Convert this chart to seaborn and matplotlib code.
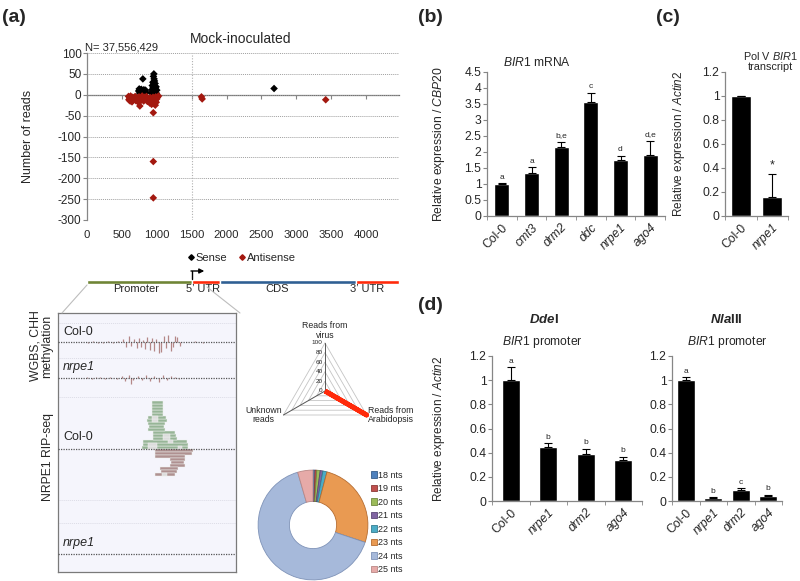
import numpy as np
import pandas as pd
import matplotlib
matplotlib.use('Agg')
import matplotlib.pyplot as plt
import seaborn as sns
from matplotlib.lines import Line2D

W, H = 800, 581

# ---------------- data ----------------
# (a) small RNA reads along BIR1 (mock-inoculated)
sense_pos = [740, 748, 755, 762, 770, 778, 785, 792, 800, 808, 815, 823, 830, 838, 845,
             925, 930, 935, 940, 944, 948, 952, 955, 958, 961, 964, 967, 970, 973, 976,
             980, 985, 990, 995, 1000, 2680]
sense_reads = [9, 14, 4, 11, 7, 13, 2, 10, 38, 5, 12, 8, 3, 11, 6,
               4, 12, 22, 8, 30, 17, 44, 26, 50, 38, 14, 33, 21, 9, 27,
               16, 6, 19, 3, 11, 15]
anti_pos = [595, 600, 610, 618, 625, 635, 645, 655, 668, 680, 690, 700, 712, 725, 735,
            745, 757, 768, 780, 790, 800, 812, 825, 840, 852, 865, 878, 890, 900, 910,
            918, 926, 934, 940, 946, 950, 950, 950, 955, 960, 966, 972, 978, 985, 992,
            1000, 1010, 1025, 1640, 1650, 3420]
anti_reads = [-4, -12, -8, -15, -3, -10, -17, -6, -12, -9, -4, -14, -7, -11, -18,
              -5, -27, -9, -13, -3, -8, -15, -6, -11, -4, -16, -9, -13, -20, -7,
              -14, -23, -10, -17, -6, -43, -160, -247, -12, -21, -8, -15, -25, -5, -18,
              -10, -6, -3, -5, -10, -12]

gene_parts = ['Promoter', '5\u2019 UTR', 'CDS', '3\u2019 UTR']
gene_start = [0, 1500, 1900, 3860]
gene_end = [1500, 1900, 3860, 4470]
gene_label_pos = [700, 1660, 2730, 4010]
gene_colors = ['#6f8535', '#ff2a0a', '#2f5f93', '#ff2a0a']

# genome browser tracks (promoter region, bp)
col_meth_pos = [290, 330, 380, 430, 480, 530, 575, 625, 650, 675, 700, 725, 750, 770, 790,
                810, 830, 850, 875, 900, 920, 940, 960, 985, 1010, 1030, 1050, 1075, 1100,
                1120, 1140, 1165, 1310, 1385]
col_meth_val = [-1, 1, -1, -1, 1, -1, 1, 3, -5, 6, -4, 3, -6, 4, -5,
                2, -7, 5, -8, 4, -9, 3, -11, -10, 6, -6, 7, -9, -5,
                6, 5, -4, 1, -1]
nrpe_meth_pos = [280, 320, 360, 400, 450, 500, 560, 610, 640, 680, 700, 720, 760, 800,
                 840, 880, 920, 960, 1000, 1040, 1080, 1120, 1160]
nrpe_meth_val = [1, -1, 1, 1, -1, 1, -1, 2, -3, 3, -6, -2, 2, -2,
                 3, -3, 2, -4, 3, -2, 2, 1, -1]

rip_up_row = [1, 2, 3, 4, 5, 6, 7, 8, 9, 10, 11, 12, 13, 14, 15, 16]
rip_up_start = [805, 810, 812, 905, 910, 905, 860, 865, 858, 850, 855, 895, 898, 895, 900, 895]
rip_up_end = [1245, 1240, 1230, 1135, 1130, 1120, 1020, 1015, 1025, 1040, 1035, 1005, 1000, 1005, 1005, 1000]
rip_grey_row = [1, 2, 1, 3, 4, 5, 10, 11]
rip_grey_start = [860, 860, 1150, 1050, 1005, 1005, 900, 900]
rip_grey_end = [945, 945, 1185, 1100, 1070, 1070, 955, 955]
rip_down_row = [1, 2, 3, 4, 5, 6, 7, 8, 9]
rip_down_start = [925, 930, 925, 1070, 1075, 1070, 975, 980, 925]
rip_down_end = [1290, 1280, 1210, 1210, 1205, 1210, 1150, 1140, 1115]
rip_down_grey_row = [9]
rip_down_grey_start = [990]
rip_down_grey_end = [1040]

# radar
radar_names = ['Reads from\nvirus', 'Reads from\nArabidopsis', 'Unknown\nreads']
radar_vals = [0, 100, 0]

# donut of read sizes
nts_labels = ['18 nts', '19 nts', '20 nts', '21 nts', '22 nts', '23 nts', '24 nts', '25 nts']
nts_pct = [0.6, 0.5, 1.0, 0.8, 1.2, 26.0, 65.4, 4.5]
nts_colors = ['#4f81bd', '#c0504d', '#9bbb59', '#8064a2', '#4bacc6', '#e99a52', '#a6b9da', '#e6aaa8']
nts_edges = ['#385d8a', '#8c3836', '#71893f', '#5c4776', '#357d91', '#b66d31', '#7f93b8', '#b98785']

# (b)
b_geno = ['Col-0', 'cmt3', 'drm2', 'ddc', 'nrpe1', 'ago4']
b_mean = [1.0, 1.33, 2.15, 3.57, 1.75, 1.9]
b_err = [0.02, 0.19, 0.17, 0.28, 0.14, 0.45]
b_letters = ['a', 'a', 'b,e', 'c', 'd', 'd,e']

# (c)
c_geno = ['Col-0', 'nrpe1']
c_mean = [1.0, 0.155]
c_err = [0.0, 0.195]

# (d)
d_geno = ['Col-0', 'nrpe1', 'drm2', 'ago4']
dde_mean = [1.0, 0.448, 0.393, 0.337]
dde_err = [0.106, 0.028, 0.036, 0.028]
dde_letters = ['a', 'b', 'b', 'b']
nla_mean = [1.0, 0.025, 0.094, 0.045]
nla_err = [0.023, 0.005, 0.011, 0.005]
nla_letters = ['a', 'b', 'c', 'b']

# ---------------- style ----------------
sns.set_style('white')
plt.rcParams['font.family'] = ['Liberation Sans', 'DejaVu Sans']
plt.rcParams['axes.unicode_minus'] = False
plt.rcParams['mathtext.fontset'] = 'custom'
plt.rcParams['mathtext.rm'] = 'Liberation Sans'
plt.rcParams['mathtext.it'] = 'Liberation Sans:italic'
plt.rcParams['mathtext.bf'] = 'Liberation Sans:bold'
plt.rcParams['mathtext.bfit'] = 'Liberation Sans:italic:bold'

AX_GREY = '#868686'
TICK_FS = 8.7


def box(l, t, r, b):
    return [l / W, 1 - b / H, (r - l) / W, (b - t) / H]


def ftext(x, y, s, **kw):
    kw.setdefault('va', 'center')
    return fig.text(x / W, 1 - y / H, s, **kw)


fig = plt.figure(figsize=(W / 100, H / 100), dpi=100)

# ---------------- (a) scatter ----------------
ax = fig.add_axes(box(87, 53, 399, 220))
reads = pd.DataFrame({
    'pos': sense_pos + anti_pos,
    'reads': sense_reads + anti_reads,
    'strand': ['Sense'] * len(sense_pos) + ['Antisense'] * len(anti_pos),
})
strand_colors = {'Sense': '#000000', 'Antisense': '#a3180f'}
sns.scatterplot(data=reads, x='pos', y='reads', hue='strand', palette=strand_colors,
                marker='D', s=15, linewidth=0, legend=False, ax=ax, zorder=3)
ax.set_xlim(0, 4470)
ax.set_ylim(-300, 100)
ax.set_yticks(np.arange(-300, 101, 50))
ax.set_xticks(np.arange(0, 4001, 500))
ax.grid(axis='y', ls=(0, (1, 1)), color='#a0a0a0', lw=0.7)
ax.set_axisbelow(True)
ax.axvline(1500, color='#b0b0b0', ls=(0, (1, 1.5)), lw=0.8, zorder=1)
for s in ['top', 'right', 'bottom']:
    ax.spines[s].set_visible(False)
ax.spines['left'].set_color(AX_GREY)
ax.spines['left'].set_linewidth(0.9)
ax.tick_params(axis='y', length=3, color=AX_GREY, labelsize=8.5, pad=1, left=True)
ax.tick_params(axis='x', length=0, labelsize=8.2, pad=7)
ax.set_xlabel('')
ax.set_ylabel('Number of reads', fontsize=9)
ax.yaxis.set_label_coords(-0.17, 0.5)
sec = ax.secondary_xaxis(0.75)
sec.set_xticks(np.arange(0, 4001, 500))
sec.tick_params(direction='in', length=3, color=AX_GREY, labeltop=False, labelbottom=False)
for s in sec.spines.values():
    s.set_color('#707070')
    s.set_linewidth(0.9)

ftext(241, 39, 'Mock-inoculated', ha='center', fontsize=10)
ftext(85, 48, 'N= 37,556,429', ha='left', fontsize=8)

handles = [Line2D([], [], marker='D', ls='', ms=2.8, color=strand_colors[k]) for k in ['Sense', 'Antisense']]
fig.legend(handles, ['Sense', 'Antisense'], loc='center', bbox_to_anchor=(241 / W, 1 - 258 / H),
           ncol=2, frameon=False, fontsize=8, handletextpad=0.05, columnspacing=0.9, handlelength=0.8)

# gene model
axg = fig.add_axes(box(87, 266, 399, 298))
axg.set_xlim(0, 4470)
axg.set_ylim(32, 0)
axg.axis('off')
axg.barh([16] * 4, np.array(gene_end) - np.array(gene_start), left=gene_start, height=4.5,
         color=gene_colors)
for name, xp in zip(gene_parts, gene_label_pos):
    axg.text(xp, 23.5, name, ha='center', va='center', fontsize=8)
axg.plot([1500, 1500], [13.5, 5], color='black', lw=1)
axg.annotate('', xy=(1680, 5), xytext=(1490, 5),
             arrowprops=dict(arrowstyle='-|>', color='black', lw=1, mutation_scale=7,
                             shrinkA=0, shrinkB=0))

fig.add_artist(Line2D([87 / W, 62 / W], [1 - 285 / H, 1 - 313 / H], color='#bdbdbd', lw=0.8))
fig.add_artist(Line2D([207 / W, 240 / W], [1 - 287 / H, 1 - 313 / H], color='#bdbdbd', lw=0.8))

# genome browser
axb = fig.add_axes(box(58, 313, 236, 572))
axb.set_facecolor('#f5f5fc')
axb.set_xlim(0, 1700)
axb.set_ylim(259, 0)
axb.set_xticks([])
axb.set_yticks([])
for s in axb.spines.values():
    s.set_color('#7a7a7a')
    s.set_linewidth(0.9)
for gy in [10, 45, 84, 187, 210]:
    axb.axhline(gy, color='#dcdce6', lw=0.7, ls=(0, (1, 1)))
base_col_m, base_nrpe_m, base_col_r, base_nrpe_r = 29, 65, 136, 241
for by in [base_col_m, base_nrpe_m, base_col_r, base_nrpe_r]:
    axb.axhline(by, color='#555555', lw=0.9, ls=(0, (1, 1)), zorder=4)
axb.vlines(col_meth_pos, base_col_m, base_col_m - np.array(col_meth_val), color='#b48787', lw=0.9)
axb.vlines(nrpe_meth_pos, base_nrpe_m, base_nrpe_m - np.array(nrpe_meth_val), color='#b48787', lw=0.9)

row_h = 3.0
read_kw = dict(height=row_h, linewidth=0.35, edgecolor='#eef1ee')
up_y = base_col_r - (np.array(rip_up_row) - 0.5) * row_h
axb.barh(up_y, np.array(rip_up_end) - np.array(rip_up_start), left=rip_up_start,
         color='#97b597', zorder=2, **read_kw)
gy_ = base_col_r - (np.array(rip_grey_row) - 0.5) * row_h
axb.barh(gy_, np.array(rip_grey_end) - np.array(rip_grey_start), left=rip_grey_start,
         color='#dcdcdc', zorder=3, **read_kw)
dn_y = base_col_r + (np.array(rip_down_row) - 0.5) * row_h
axb.barh(dn_y, np.array(rip_down_end) - np.array(rip_down_start), left=rip_down_start,
         color='#af9191', zorder=2, **read_kw)
dg_y = base_col_r + (np.array(rip_down_grey_row) - 0.5) * row_h
axb.barh(dg_y, np.array(rip_down_grey_end) - np.array(rip_down_grey_start), left=rip_down_grey_start,
         color='#dcdcdc', zorder=3, **read_kw)

axb.text(48, 19, 'Col-0', fontsize=9, va='center')
axb.text(48, 54, 'nrpe1', fontsize=9, va='center', style='italic')
axb.text(48, 124, 'Col-0', fontsize=9, va='center')
axb.text(48, 230, 'nrpe1', fontsize=9, va='center', style='italic')

ftext(41, 346, 'WGBS, CHH\nmethylation', rotation=90, ha='center', fontsize=8.8, linespacing=1.0)
ftext(48, 457, 'NRPE1 RIP-seq', rotation=90, ha='center', fontsize=8.8)

# radar
axr = fig.add_axes(box(265, 331, 385, 451))
axr.set_xlim(-125, 125)
axr.set_ylim(-125, 125)
axr.axis('off')
ang = np.deg2rad([90, -30, 210])
ang_c = np.append(ang, ang[0])
for lev in range(20, 101, 20):
    axr.plot(lev * np.cos(ang_c), lev * np.sin(ang_c), color='#c4c4c4', lw=0.6)
for a in ang:
    axr.plot([0, 100 * np.cos(a)], [0, 100 * np.sin(a)], color='#555555', lw=0.7)
for lev in range(0, 101, 20):
    axr.text(-5, lev, str(lev), ha='right', va='center', fontsize=4.6)
rv = np.append(radar_vals, radar_vals[0])
axr.plot(rv * np.cos(ang_c), rv * np.sin(ang_c), color='#ff2a0a', lw=3.5, solid_capstyle='butt')
axr.text(0, 106, radar_names[0], ha='center', va='bottom', fontsize=6.3, linespacing=1.1)
axr.text(90, -50, radar_names[1], ha='left', va='center', fontsize=6.3, linespacing=1.1)
axr.text(-90, -50, radar_names[2], ha='right', va='center', fontsize=6.3, linespacing=1.1,
         multialignment='center')

# donut
axd = fig.add_axes(box(257, 469, 369, 581))
wedges, _ = axd.pie(nts_pct, colors=nts_colors, startangle=90, counterclock=False, radius=1,
                    wedgeprops=dict(width=0.57, linewidth=0.6))
for w, ec in zip(wedges, nts_edges):
    w.set_edgecolor(ec)
axd.set_xlim(-1.02, 1.02)
axd.set_ylim(-1.02, 1.02)
fig.legend(wedges, nts_labels, loc='upper left', bbox_to_anchor=(366 / W, 1 - 466 / H),
           frameon=False, fontsize=6.5, handlelength=0.7, handleheight=0.7,
           labelspacing=0.5, handletextpad=0.15, borderpad=0)


# ---------------- bar panels ----------------
def bar_panel(rect, geno, mean, err, ymax, step, width):
    a = fig.add_axes(rect)
    df = pd.DataFrame({'genotype': geno, 'expr': mean})
    sns.barplot(data=df, x='genotype', y='expr', color='black', saturation=1, width=width,
                errorbar=None, ax=a)
    n = len(geno)
    a.errorbar(np.arange(n), mean, yerr=[np.zeros(n), err], fmt='none', ecolor='black',
               elinewidth=0.8, capsize=3, capthick=0.8)
    a.set_ylim(0, ymax)
    ticks = np.round(np.arange(0, ymax + 1e-9, step), 2)
    a.set_yticks(ticks)
    a.set_yticklabels([f'{t:g}' for t in ticks])
    a.set_xlim(-0.5, n - 0.5)
    a.set_xticks(np.arange(n))
    a.set_xticklabels(geno, rotation=45, ha='right', va='top', rotation_mode='anchor')
    for lbl in a.get_xticklabels():
        if lbl.get_text() != 'Col-0':
            lbl.set_style('italic')
    a.set_xticks(np.arange(-0.5, n), minor=True)
    for s in ['top', 'right']:
        a.spines[s].set_visible(False)
    for s in ['left', 'bottom']:
        a.spines[s].set_color(AX_GREY)
        a.spines[s].set_linewidth(0.9)
    a.tick_params(axis='y', left=True, length=3, color=AX_GREY, labelsize=TICK_FS, pad=1)
    a.tick_params(axis='x', which='major', length=0, labelsize=TICK_FS, pad=4)
    a.tick_params(axis='x', which='minor', bottom=True, length=3, color=AX_GREY)
    a.set_xlabel('')
    return a


def letters(a, mean, err, labs, size=6):
    for i, (m, e, t) in enumerate(zip(mean, err, labs)):
        a.annotate(t, (i, m + e), xytext=(0, 2), textcoords='offset points',
                   ha='center', va='bottom', fontsize=size)


ax_b = bar_panel(box(487, 72, 665, 216), b_geno, b_mean, b_err, 4.5, 0.5, 0.5)
letters(ax_b, b_mean, b_err, b_letters)
ax_b.set_ylabel(r'Relative expression / $\it{CBP20}$', fontsize=8.7)
ax_b.yaxis.set_label_coords(-0.225, 0.5)
ftext(503, 63, r'$\it{BIR1}$ mRNA', ha='left', fontsize=8.7)

ax_c = bar_panel(box(725, 72, 788, 216), c_geno, c_mean, c_err, 1.2, 0.2, 0.63)
letters(ax_c, c_mean, c_err, ['', '*'], size=9)
ax_c.set_ylabel(r'Relative expression / $\it{Actin2}$', fontsize=8.5)
ax_c.yaxis.set_label_coords(-0.6, 0.5)
ftext(770, 61, 'Pol V $\\it{BIR1}$\ntranscript', ha='center', fontsize=7.8, linespacing=1.0)

ax_d1 = bar_panel(box(492, 356, 642, 501), d_geno, dde_mean, dde_err, 1.2, 0.2, 0.49)
letters(ax_d1, dde_mean, dde_err, dde_letters)
ax_d1.set_ylabel(r'Relative expression / $\it{Actin2}$', fontsize=8.5)
ax_d1.yaxis.set_label_coords(-0.3, 0.5)
ftext(544, 320, r'$\mathbfit{Dde}$I', ha='center', fontsize=9.5, fontweight='bold')
ftext(542, 342, r'$\it{BIR1}$ promoter', ha='center', fontsize=8.7)

ax_d2 = bar_panel(box(672, 356, 782, 501), d_geno, nla_mean, nla_err, 1.2, 0.2, 0.64)
letters(ax_d2, nla_mean, nla_err, nla_letters)
ax_d2.set_ylabel('')
ftext(726, 320, r'$\mathbfit{Nla}$III', ha='center', fontsize=9.5, fontweight='bold')
ftext(727, 342, r'$\it{BIR1}$ promoter', ha='center', fontsize=8.7)

# panel letters
for lab, xp, yp in [('(a)', 2, 17), ('(b)', 418, 17), ('(c)', 656, 17), ('(d)', 418, 305)]:
    ftext(xp, yp, lab, ha='left', fontsize=14, fontweight='bold')

fig.savefig('out.png', dpi=100)
